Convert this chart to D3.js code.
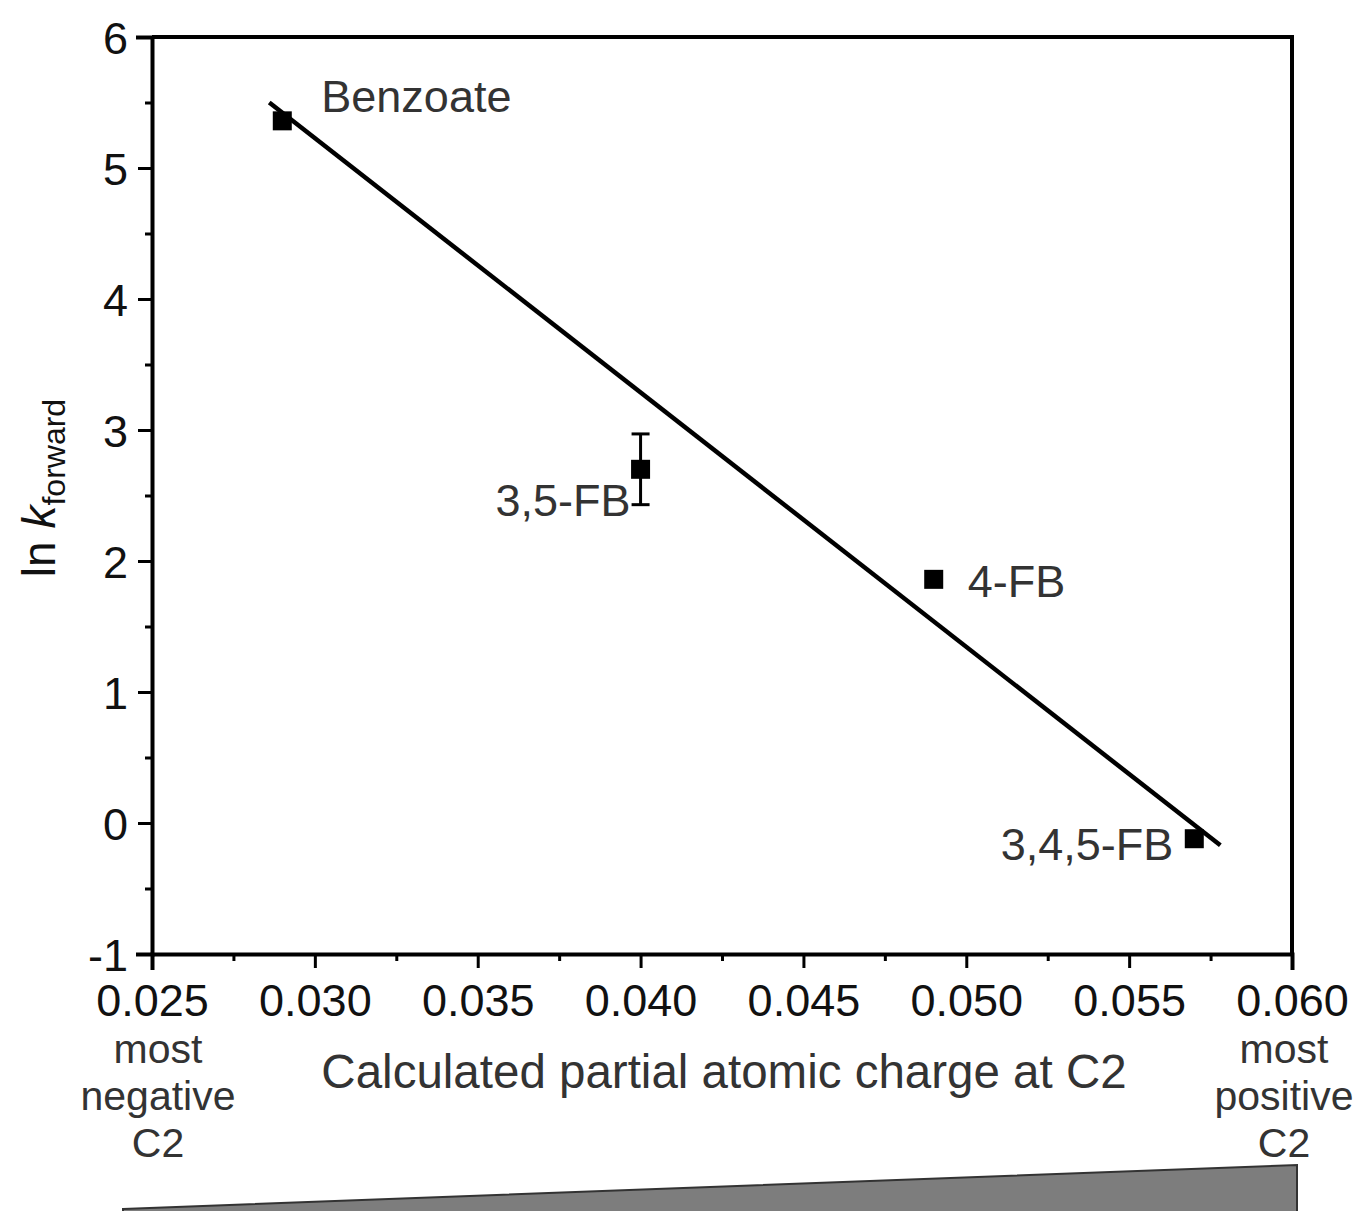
<!DOCTYPE html>
<html>
<head>
<meta charset="utf-8">
<script src="https://cdn.jsdelivr.net/npm/d3@7"></script>
<style>
  body { margin: 0; background: #fff; }
  text { font-family: "Liberation Sans", Arial, sans-serif; }
</style>
</head>
<body>
<script>
'use strict';

// data
const compounds = ["Benzoate", "3,5-FB", "4-FB", "3,4,5-FB"];
const charge = [0.029, 0.040, 0.049, 0.057];
const lnK = [5.36, 2.70, 1.86, -0.12];
const lnKErr = [0, 0.27, 0, 0];
const fitX = [0.0286, 0.0578];
const fitY = [5.50, -0.17];
const xTicks = [0.025, 0.030, 0.035, 0.040, 0.045, 0.050, 0.055, 0.060];
const yTicks = [-1, 0, 1, 2, 3, 4, 5, 6];

const width = 1361, height = 1211;

let svg = d3.select("body").append("svg")
    .attr("width", width)
    .attr("height", height);

let x = d3.scaleLinear().domain([0.025, 0.060]).range([152, 1292]);
let y = d3.scaleLinear().domain([-1, 6]).range([954, 37]);

// frame top / right
svg.append("path")
    .attr("d", "M" + x(0.025) + "," + y(6) + "H" + x(0.060) + "V" + y(-1))
    .attr("fill", "none")
    .attr("stroke", "#000")
    .attr("stroke-width", 4);

// minor ticks
let xMinor = d3.range(0.0275, 0.060, 0.005);
let yMinor = d3.range(-0.5, 6, 1);

let xAxis = svg.append("g")
    .attr("transform", "translate(0," + y(-1) + ")")
    .call(d3.axisBottom(x).tickValues(xTicks).tickFormat(d3.format(".3f")).tickSize(14).tickPadding(12));

svg.append("g")
    .attr("transform", "translate(0," + y(-1) + ")")
    .call(d3.axisBottom(x).tickValues(xMinor).tickFormat("").tickSize(7))
    .call(g => g.select(".domain").remove());

let yAxis = svg.append("g")
    .attr("transform", "translate(" + x(0.025) + ",0)")
    .call(d3.axisLeft(y).tickValues(yTicks).tickFormat(d => String(d)).tickSize(14).tickPadding(10));

svg.append("g")
    .attr("transform", "translate(" + x(0.025) + ",0)")
    .call(d3.axisLeft(y).tickValues(yMinor).tickFormat("").tickSize(7))
    .call(g => g.select(".domain").remove());

svg.selectAll(".domain").attr("stroke-width", 4).attr("stroke-linecap", "square");
svg.selectAll(".tick line").attr("stroke-width", 3);
svg.selectAll(".tick text")
    .attr("font-size", 45)
    .attr("fill", "#111")
    .attr("font-family", "Liberation Sans, Arial, sans-serif");
xAxis.selectAll(".tick text").attr("dy", "0.8em");
yAxis.selectAll(".tick text").attr("dy", "0.36em");

// fit line
svg.append("line")
    .attr("x1", x(fitX[0])).attr("y1", y(fitY[0]))
    .attr("x2", x(fitX[1])).attr("y2", y(fitY[1]))
    .attr("stroke", "#000")
    .attr("stroke-width", 4.5);

// error bars
let pts = compounds.map((c, i) => ({ name: c, x: charge[i], y: lnK[i], e: lnKErr[i] }));

let eb = svg.append("g").selectAll("g")
    .data(pts.filter(d => d.e > 0))
    .enter().append("g");
eb.append("line")
    .attr("x1", d => x(d.x)).attr("x2", d => x(d.x))
    .attr("y1", d => y(d.y + d.e)).attr("y2", d => y(d.y - d.e))
    .attr("stroke", "#000").attr("stroke-width", 3);
[1, -1].forEach(s => {
    eb.append("line")
        .attr("x1", d => x(d.x) - 9).attr("x2", d => x(d.x) + 9)
        .attr("y1", d => y(d.y + s * d.e)).attr("y2", d => y(d.y + s * d.e))
        .attr("stroke", "#000").attr("stroke-width", 3);
});

// markers
svg.append("g").selectAll("rect")
    .data(pts)
    .enter().append("rect")
    .attr("x", d => x(d.x) - 9.5)
    .attr("y", d => y(d.y) - 9.5)
    .attr("width", 19)
    .attr("height", 19)
    .attr("fill", "#000");

// point labels
let labelPos = [
    { dx: 39, dy: -9, anchor: "start" },
    { dx: -10, dy: 47, anchor: "end" },
    { dx: 34, dy: 18, anchor: "start" },
    { dx: -21, dy: 21, anchor: "end" }
];
svg.append("g").selectAll("text")
    .data(pts)
    .enter().append("text")
    .attr("x", (d, i) => x(d.x) + labelPos[i].dx)
    .attr("y", (d, i) => y(d.y) + labelPos[i].dy)
    .attr("text-anchor", (d, i) => labelPos[i].anchor)
    .attr("font-size", 45)
    .attr("fill", "#333")
    .text(d => d.name);

// axis titles
svg.append("text")
    .attr("x", 724)
    .attr("y", 1088)
    .attr("text-anchor", "middle")
    .attr("font-size", 47.5)
    .attr("fill", "#333")
    .text("Calculated partial atomic charge at C2");

let yl = svg.append("text")
    .attr("transform", "translate(55,488) rotate(-90)")
    .attr("text-anchor", "middle")
    .attr("font-size", 46)
    .attr("fill", "#111");
yl.append("tspan").text("ln ");
yl.append("tspan").attr("font-style", "italic").text("k");
yl.append("tspan").attr("font-size", 32).attr("dy", 10).text("forward");

// end notes
let notes = [
    { lines: ["most", "negative", "C2"], cx: 158 },
    { lines: ["most", "positive", "C2"], cx: 1284 }
];
notes.forEach(n => {
    n.lines.forEach((l, i) => {
        svg.append("text")
            .attr("x", n.cx)
            .attr("y", 1063 + i * 47)
            .attr("text-anchor", "middle")
            .attr("font-size", 41)
            .attr("fill", "#333")
            .text(l);
    });
});

// wedge
svg.append("path")
    .attr("d", "M123,1209 L1297,1165 L1297,1215 L123,1215 Z")
    .attr("fill", "#7d7d7d")
    .attr("stroke", "#333")
    .attr("stroke-width", 2);
</script>
</body>
</html>
